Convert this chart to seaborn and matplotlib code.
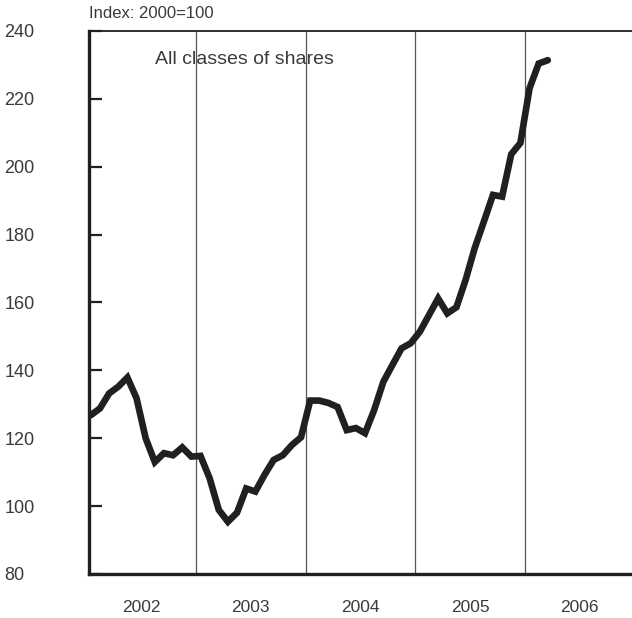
import numpy as np
import pandas as pd
import matplotlib
matplotlib.use("Agg")
import matplotlib.pyplot as plt
import seaborn as sns

sns.set_style("white")
plt.rcParams["font.family"] = ["Liberation Sans", "DejaVu Sans"]

# Monthly index values, Jan 2002 - Mar 2006 (2000=100)
years = [2002] * 12 + [2003] * 12 + [2004] * 12 + [2005] * 12 + [2006] * 3
months = list(range(1, 13)) * 4 + [1, 2, 3]
index_values = [
    126.8, 128.8, 133.2, 135.2, 137.9, 131.8, 120.0, 113.0, 115.6, 115.0, 117.3, 114.6,
    114.8, 108.2, 98.9, 95.4, 98.1, 105.2, 104.3, 109.2, 113.6, 115.0, 118.0, 120.3,
    131.1, 131.1, 130.4, 129.2, 122.4, 123.0, 121.5, 128.3, 136.6, 141.6, 146.5, 148.0,
    151.4, 156.3, 161.2, 156.8, 158.6, 166.6, 176.0, 183.8, 191.7, 191.2, 203.7, 207.0,
    223.1, 230.4, 231.4,
]
year_labels = ["2002", "2003", "2004", "2005", "2006"]
y_ticks = [80, 100, 120, 140, 160, 180, 200, 220, 240]

df = pd.DataFrame({"year": years, "month": months, "value": index_values})
df["t"] = df["year"] + (df["month"] - 0.5) / 12

text_col = "#3a3a3a"
line_col = "#231f20"

fig = plt.figure(figsize=(6.32, 6.18), dpi=100)
ax = fig.add_axes([89 / 632, 44 / 618, 543 / 632, 543 / 618])

sns.lineplot(data=df, x="t", y="value", ax=ax, color=line_col, linewidth=4.8,
             solid_joinstyle="miter", solid_capstyle="round")

# year separators
for yr in [2003, 2004, 2005, 2006]:
    ax.axvline(yr, color="#555555", linewidth=0.9, zorder=0)

ax.set_xlim(2002.025, 2006.976)
ax.set_ylim(80, 240)

ax.set_xticks([int(y) + 0.5 for y in year_labels])
ax.set_xticklabels(year_labels)
ax.set_yticks(y_ticks)
ax.set_yticklabels([str(v) for v in y_ticks], ha="left")

ax.tick_params(axis="x", length=0, pad=19, labelsize=12.5, labelcolor=text_col)
ax.tick_params(axis="y", direction="in", length=9.5, width=1.6, color=line_col,
               pad=61, labelsize=13, labelcolor=text_col, left=True)

for s in ["left", "bottom"]:
    ax.spines[s].set_linewidth(2.4)
    ax.spines[s].set_color(line_col)
ax.spines["top"].set_linewidth(1.3)
ax.spines["top"].set_color(line_col)
ax.spines["right"].set_visible(False)

ax.set_xlabel("")
ax.set_ylabel("")

ax.text(0.1215, 0.9466, "All classes of shares", transform=ax.transAxes,
        fontsize=14, color=text_col, va="center", ha="left")
fig.text(89 / 632, 1 - 14 / 618, "Index: 2000=100", fontsize=12,
         color=text_col, va="center", ha="left")

fig.savefig("out.png", dpi=100)
